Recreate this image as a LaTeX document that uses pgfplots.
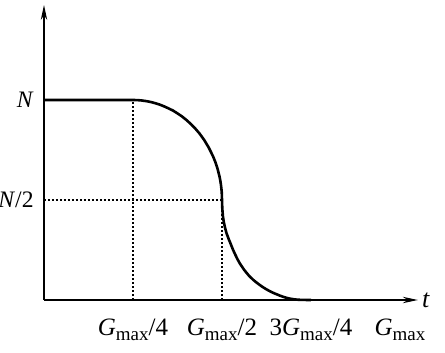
\documentclass[border=0pt]{standalone}
\usepackage{fontspec}
\setmainfont{Liberation Serif}
\usepackage{pgfplots}
\pgfplotsset{compat=1.18}
\usetikzlibrary{arrows.meta}
\newcommand{\Gm}{\textit{G}\raisebox{-0.45ex}{\fontsize{9.5}{10}\selectfont max}}
\begin{document}
\begin{tikzpicture}
\useasboundingbox (-22pt,-26.5pt) rectangle (200.5pt,150pt);
\begin{axis}[
  at={(0,0)}, anchor=origin,
  x=44.5pt, y=100pt,
  xmin=0, xmax=4.2, ymin=0, ymax=1.475,
  enlargelimits=false,
  axis lines=middle,
  axis line style={line width=0.6pt,-{Stealth[length=7.5pt,width=3.2pt]}},
  major tick length=0pt,
  xtick={1,2,3,4},
  xticklabels={\Gm/4, \Gm/2, 3\Gm/4, \Gm},
  ytick={0,0.5,1},
  yticklabels={0, \textit{N}/2, \textit{N}},
  ticklabel style={font=\fontsize{12.5}{14}\selectfont},
  xticklabel style={yshift=-6pt},
  yticklabel style={font=\fontsize{11.8}{14}\selectfont, inner sep=2pt, xshift=-3pt},
  xlabel={\textit{t}},
  xlabel style={at={(axis cs:4.2,0)}, anchor=west, inner sep=2pt, font=\fontsize{13}{14}\selectfont},
  clip=false,
]
\addplot[dash pattern=on 1pt off 1pt, line width=0.6pt] coordinates {(1,0) (1,1)};
\addplot[dash pattern=on 1pt off 1pt, line width=0.6pt] coordinates {(2,0) (2,0.5)};
\addplot[dash pattern=on 1pt off 1pt, line width=0.6pt] coordinates {(0,0.5) (2,0.5)};
\addplot[line width=1.3pt, line join=round] coordinates {
 (0,1) (1,1) (1.05,0.9994) (1.1,0.9975) (1.15,0.9943) (1.2,0.990) (1.25,0.984) (1.3,0.977)
 (1.35,0.968) (1.4,0.958) (1.45,0.947) (1.5,0.933) (1.55,0.918)
 (1.6,0.900) (1.65,0.880) (1.7,0.857) (1.75,0.831) (1.8,0.800) (1.85,0.763) (1.9,0.718)
 (1.93,0.684) (1.95,0.656) (1.97,0.621)
 (1.98,0.600) (1.99,0.570) (1.997,0.54) (2.0,0.5) (2.003,0.46) (2.01,0.42) (2.02,0.39)
 (2.035,0.36) (2.05,0.335) (2.075,0.305)
 (2.1,0.278) (2.125,0.250) (2.15,0.226) (2.175,0.203) (2.2,0.183) (2.25,0.150) (2.3,0.123)
 (2.35,0.101) (2.4,0.083) (2.45,0.067) (2.5,0.053)
 (2.55,0.041) (2.6,0.031) (2.65,0.022) (2.7,0.014) (2.75,0.008) (2.8,0.004) (2.85,0.0015)
 (2.9,0.0004) (3.0,0)
};
\end{axis}
\end{tikzpicture}
\end{document}
